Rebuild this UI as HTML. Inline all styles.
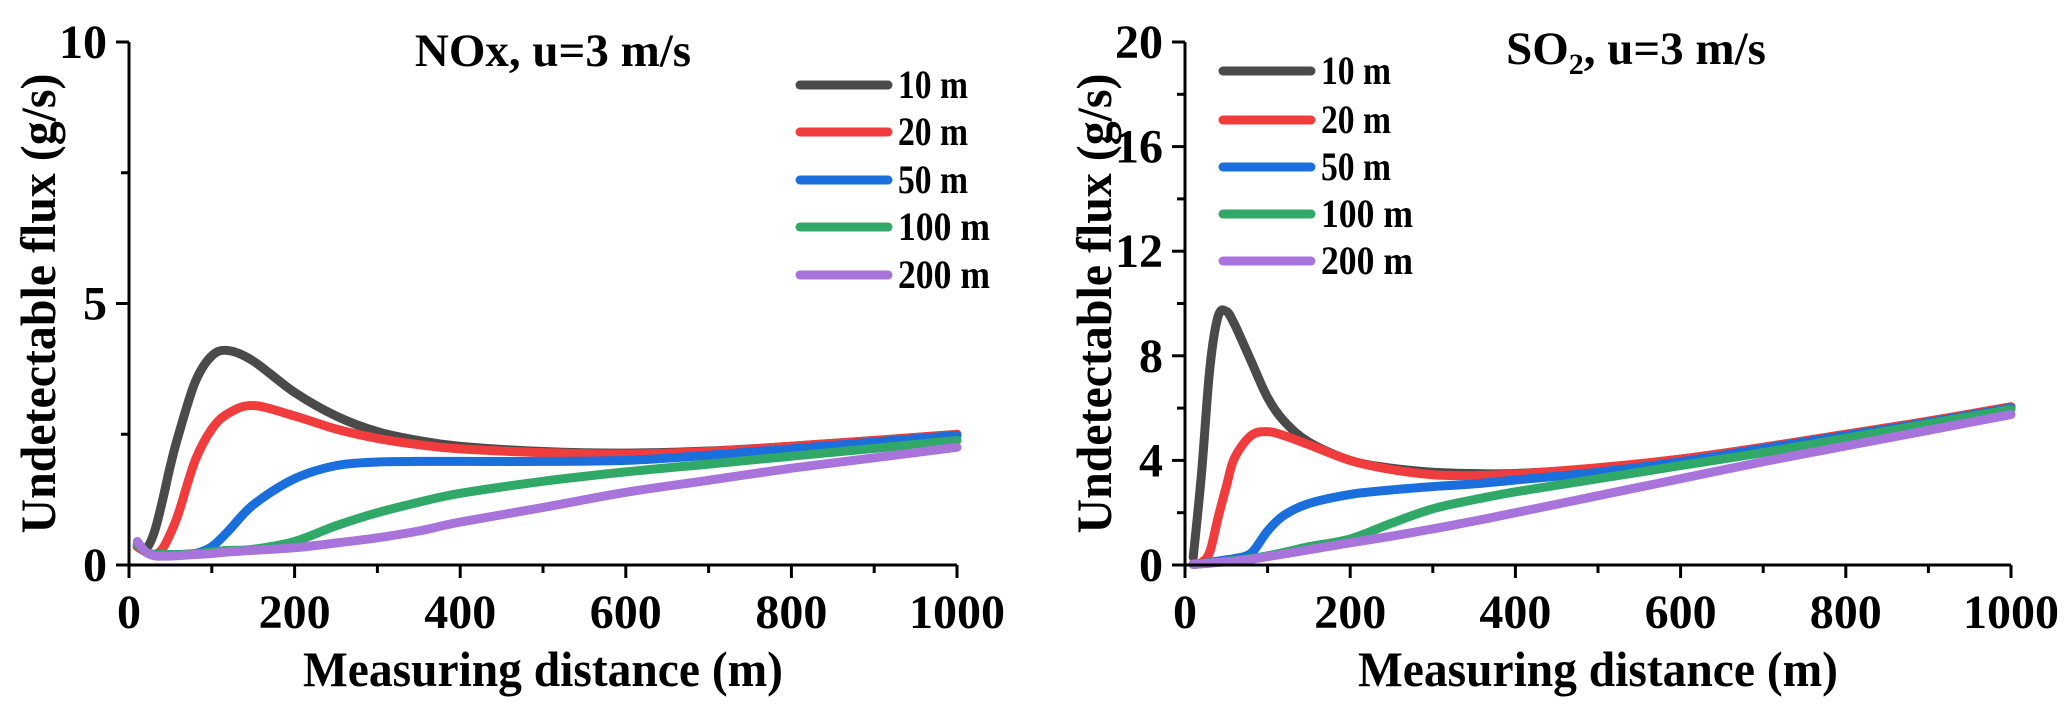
<!DOCTYPE html>
<html><head><meta charset="utf-8"><style>
html,body{margin:0;padding:0;background:#fff;}
svg{display:block;font-family:"Liberation Serif",serif;font-weight:bold;}
</style></head><body>
<svg id="fig" width="2067" height="714" viewBox="0 0 2067 714"></svg>
<script>
const xGrid = [10,20,30,40,50,60,80,100,120,150,200,250,300,350,400,500,600,700,800,900,1000];
const seriesLabels = ["10 m","20 m","50 m","100 m","200 m"];
const seriesColors = ["#4a4a4a","#f03c3c","#1a6fdc","#30a868","#a874dc"];
const nox10 = [0.35,0.3,0.6,1.2,1.9,2.5,3.5,4.0,4.1,3.9,3.3,2.85,2.55,2.38,2.27,2.17,2.14,2.18,2.27,2.38,2.5];
const nox20 = [0.35,0.25,0.2,0.3,0.6,1.0,2.0,2.6,2.9,3.05,2.85,2.6,2.42,2.3,2.22,2.15,2.12,2.17,2.27,2.38,2.5];
const nox50 = [0.4,0.25,0.2,0.2,0.2,0.2,0.22,0.35,0.65,1.15,1.65,1.9,1.97,1.98,1.98,1.98,2.0,2.1,2.22,2.35,2.48];
const nox100 = [0.4,0.25,0.2,0.2,0.2,0.2,0.22,0.25,0.28,0.3,0.45,0.75,1.0,1.2,1.37,1.6,1.78,1.93,2.08,2.23,2.38];
const nox200 = [0.45,0.25,0.18,0.17,0.17,0.18,0.2,0.22,0.25,0.28,0.33,0.42,0.52,0.65,0.82,1.1,1.39,1.62,1.85,2.05,2.25];
const so10 = [0.3,3.5,7.5,9.5,9.7,9.2,7.8,6.4,5.5,4.7,4.0,3.7,3.55,3.5,3.5,3.7,4.05,4.5,5.0,5.5,6.05];
const so20 = [0.05,0.1,0.5,1.8,3.0,4.1,4.95,5.1,4.95,4.6,4.0,3.65,3.45,3.42,3.48,3.72,4.05,4.5,5.0,5.5,6.05];
const so50 = [0.02,0.05,0.1,0.15,0.2,0.25,0.45,1.3,1.9,2.35,2.7,2.87,3.0,3.1,3.25,3.55,3.95,4.45,4.95,5.45,6.0];
const so100 = [0.02,0.05,0.08,0.1,0.14,0.17,0.25,0.35,0.48,0.7,1.0,1.6,2.15,2.5,2.8,3.3,3.8,4.3,4.85,5.4,5.95];
const so200 = [0.02,0.05,0.07,0.1,0.12,0.15,0.22,0.32,0.42,0.58,0.85,1.1,1.38,1.68,2.0,2.65,3.3,3.95,4.55,5.15,5.75];
const xTicks = [0,200,400,600,800,1000];
const noxYTicks = [0,5,10];
const soYTicks = [0,4,8,12,16,20];

const NS="http://www.w3.org/2000/svg";
const svg=document.getElementById('fig');
function mk(tag,attrs,parent){const e=document.createElementNS(NS,tag);for(const k in attrs)e.setAttribute(k,attrs[k]);(parent||svg).appendChild(e);return e;}
function smooth(pts){let d="M"+pts[0][0]+","+pts[0][1];for(let i=0;i<pts.length-1;i++){const p0=pts[Math.max(0,i-1)],p1=pts[i],p2=pts[i+1],p3=pts[Math.min(pts.length-1,i+2)];const c1=[p1[0]+(p2[0]-p0[0])/6,p1[1]+(p2[1]-p0[1])/6],c2=[p2[0]-(p3[0]-p1[0])/6,p2[1]-(p3[1]-p1[1])/6];d+=" C"+c1[0].toFixed(1)+","+c1[1].toFixed(1)+" "+c2[0].toFixed(1)+","+c2[1].toFixed(1)+" "+p2[0].toFixed(1)+","+p2[1].toFixed(1);}return d;}

function panel(cfg){
  const g=mk('g',{});
  
  
  const X=v=>cfg.x0+(v/1000)*(cfg.x1-cfg.x0);
  const Y=v=>cfg.yb-(v/cfg.ymax)*(cfg.yb-cfg.yt);
  cfg.series.forEach((s,i)=>{
    const pts=xGrid.map((x,j)=>[X(x),Y(s[j])]);
    const p=mk('path',{d:smooth(pts),fill:'none',stroke:seriesColors[i],'stroke-width':9,'stroke-linecap':'round','stroke-linejoin':'round'},g);
    
    
  });
  const ax=mk('path',{d:`M${cfg.x0},${cfg.yt} V${cfg.yb} H${cfg.x1}`,fill:'none',stroke:'#000','stroke-width':3},g);
  
  
  for(let v=0;v<=1000;v+=100){
    const major=xTicks.includes(v);
    mk('line',{x1:X(v),x2:X(v),y1:cfg.yb,y2:cfg.yb+(major?13:8),stroke:'#000','stroke-width':3},g);
  }
  xTicks.forEach(v=>{
    const t=mk('text',{x:X(v),y:628,'text-anchor':'middle','font-size':48},g);
    t.textContent=v;
    
    
  });
  const yt=cfg.yTicks;const step=yt[1]-yt[0];
  for(let v=0;v<=cfg.ymax+1e-9;v+=step/2){
    const major=yt.some(t=>Math.abs(t-v)<1e-9);
    mk('line',{x1:cfg.x0,x2:cfg.x0-(major?13:8),y1:Y(v),y2:Y(v),stroke:'#000','stroke-width':3},g);
  }
  yt.forEach(v=>{
    const t=mk('text',{x:cfg.x0-22,y:Y(v)+16,'text-anchor':'end','font-size':48},g);
    t.textContent=v;
    
    
  });
  const xt=mk('text',{x:(cfg.x0+cfg.x1)/2,y:686,'text-anchor':'middle','font-size':50,textLength:480,lengthAdjust:'spacingAndGlyphs'},g);
  xt.textContent='Measuring distance (m)';
  
  
  const ytt=mk('text',{x:0,y:0,'text-anchor':'middle','font-size':50,textLength:460,lengthAdjust:'spacingAndGlyphs',transform:`translate(${cfg.x0-74},${(cfg.yt+cfg.yb)/2}) rotate(-90)`},g);
  ytt.textContent='Undetectable flux (g/s)';
  
  
  const tt=mk('text',{x:cfg.titleX,y:cfg.titleY,'text-anchor':'middle','font-size':47},g);
  tt.innerHTML=cfg.title;
  
  
  seriesLabels.forEach((lab,i)=>{
    const ly=cfg.legY[i];
    const le=mk('g',{},g);
    
    
    mk('line',{x1:cfg.legX,x2:cfg.legX+88,y1:ly,y2:ly,stroke:seriesColors[i],'stroke-width':9,'stroke-linecap':'round'},le);
    const t=mk('text',{x:cfg.legX+98,y:ly+13,'font-size':40,textLength:(lab.length>4?92:70),lengthAdjust:'spacingAndGlyphs'},le);
    t.textContent=lab;
  });
}
panel({name:'nox-chart',x0:129,x1:957,yt:42,yb:565,ymax:10,yTicks:noxYTicks,series:[nox10,nox20,nox50,nox100,nox200],title:'NOx, u=3 m/s',titleX:553,titleY:66,legX:800,legY:[85,132,180,227,275]});
panel({name:'so2-chart',x0:1185,x1:2011,yt:42,yb:565,ymax:20,yTicks:soYTicks,series:[so10,so20,so50,so100,so200],title:'SO<tspan font-size="30" dy="10">2</tspan><tspan dy="-10">, u=3 m/s</tspan>',titleX:1636,titleY:64,legX:1223,legY:[71,120,167,214,261]});
</script>
</body></html>
